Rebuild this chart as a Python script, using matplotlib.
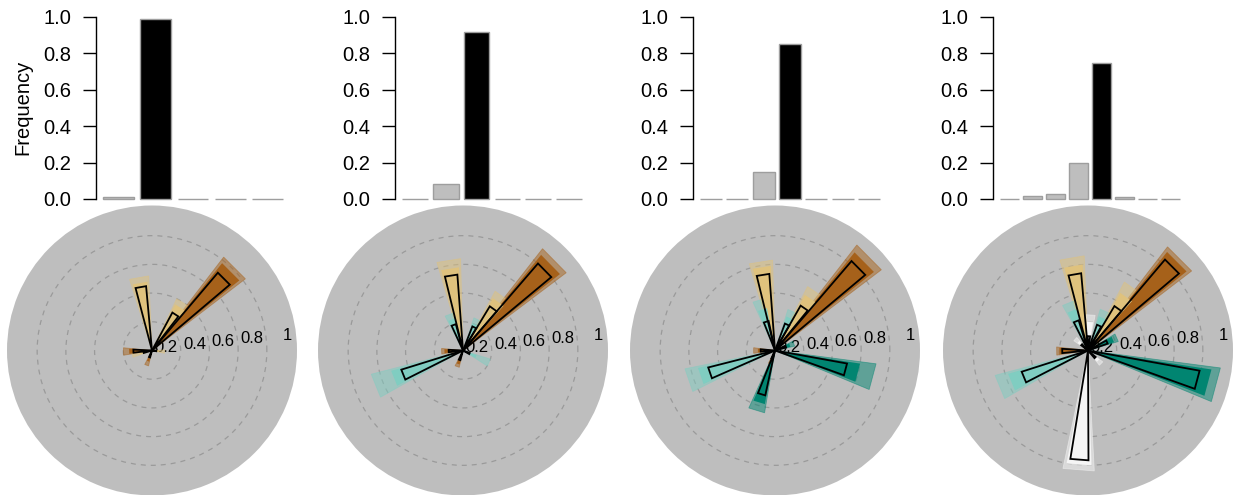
import numpy as np
import matplotlib.pyplot as plt

plt.rcParams['font.family'] = ['Liberation Sans', 'DejaVu Sans']

# frequencies shown in the top bar plots (one list per column)
freq_1 = [0.01, 0.99, 0.0, 0.0, 0.0]
freq_2 = [0.0, 0.08, 0.92, 0.0, 0.0, 0.0]
freq_3 = [0.0, 0.0, 0.15, 0.85, 0.0, 0.0, 0.0]
freq_4 = [0.0, 0.015, 0.03, 0.20, 0.75, 0.01, 0.0, 0.0]

# rose wedges: colour group, direction (deg), estimate, bulk of replicates, max of replicates
p1_col = ['tan', 'brown', 'tan', 'brown', 'tan', 'brown', 'tan']
p1_ang = [100, 45, 57, 182, 192, 250, 355]
p1_est = [0.45, 0.71, 0.30, 0.13, 0.06, 0.05, 0.03]
p1_mid = [0.48, 0.78, 0.36, 0.16, 0.09, 0.08, 0.05]
p1_max = [0.52, 0.82, 0.40, 0.20, 0.14, 0.11, 0.09]

p2_col = ['tan', 'brown', 'tan', 'lteal', 'lteal', 'lteal', 'brown', 'brown', 'lteal']
p2_ang = [99, 44.5, 54, 110, 64, 202, 182, 250, 335]
p2_est = [0.53, 0.80, 0.36, 0.19, 0.18, 0.45, 0.10, 0.07, 0.05]
p2_mid = [0.58, 0.86, 0.42, 0.23, 0.20, 0.52, 0.13, 0.10, 0.10]
p2_max = [0.64, 0.90, 0.47, 0.27, 0.24, 0.66, 0.15, 0.12, 0.20]

p3_col = ['tan', 'brown', 'tan', 'lteal', 'lteal', 'brown', 'lteal', 'dteal', 'dteal', 'brown', 'dteal']
p3_ang = [99, 44.7, 55.5, 107, 65, 180, 199, 345, 253, 250, 20]
p3_est = [0.535, 0.82, 0.36, 0.21, 0.20, 0.10, 0.48, 0.51, 0.32, 0.06, 0.08]
p3_mid = [0.59, 0.88, 0.44, 0.30, 0.25, 0.12, 0.55, 0.60, 0.38, 0.08, 0.11]
p3_max = [0.63, 0.93, 0.50, 0.37, 0.30, 0.15, 0.64, 0.71, 0.44, 0.10, 0.14]

p4_col = ['tan', 'brown', 'tan', 'lteal', 'white', 'lteal', 'dteal', 'brown', 'lteal', 'dteal', 'white', 'white', 'white']
p4_ang = [99.8, 45, 54.5, 112, 86, 66, 24, 181, 202.5, 345, 265.5, 315, 138]
p4_est = [0.54, 0.83, 0.36, 0.22, 0.10, 0.19, 0.145, 0.18, 0.485, 0.79, 0.765, 0.07, 0.06]
p4_mid = [0.60, 0.88, 0.46, 0.30, 0.20, 0.25, 0.19, 0.20, 0.58, 0.87, 0.80, 0.10, 0.09]
p4_max = [0.66, 0.91, 0.54, 0.36, 0.25, 0.30, 0.22, 0.22, 0.67, 0.93, 0.84, 0.13, 0.12]

r_ticks = [0.2, 0.4, 0.6, 0.8, 1.0]
r_labels = ['0.2', '0.4', '0.6', '0.8', '1']

palette = {'brown': '#A6611A', 'tan': '#DFC27D', 'white': '#F5F5F5',
           'lteal': '#80CDC1', 'dteal': '#018571'}

freqs = [freq_1, freq_2, freq_3, freq_4]
panels = [(p1_col, p1_ang, p1_est, p1_mid, p1_max),
          (p2_col, p2_ang, p2_est, p2_mid, p2_max),
          (p3_col, p3_ang, p3_est, p3_mid, p3_max),
          (p4_col, p4_ang, p4_est, p4_mid, p4_max)]

W, H = 1233, 495
fig = plt.figure(figsize=(W / 100, H / 100), dpi=100)

bar_left = [96, 395, 693, 993]
rose_cx = [152, 463, 775, 1088]
rose_cy = 350.5
rose_rad = 145


def wedge(ax, ang, r, width, **kw):
    t = np.deg2rad([ang - width / 2, ang + width / 2])
    ax.fill([0, t[0], t[1]], [0, r, r], **kw)


for i in range(4):
    # bar plot
    f = freqs[i]
    n = len(f)
    ax = fig.add_axes([bar_left[i] / W, (H - 199) / H, 194 / W, 182 / H])
    x = 0.7 + 1.2 * np.arange(n)
    best = int(np.argmax(f))
    cols = ['black' if k == best else '#BEBEBE' for k in range(n)]
    ax.bar(x, f, width=1, color=cols, edgecolor='#9E9E9E', linewidth=1, clip_on=False)
    rng = 1.2 * n - 0.2
    ax.set_xlim(0.2 - 0.04 * rng, 1.2 * n + 0.04 * rng)
    ax.set_ylim(0, 1)
    for s in ['top', 'right', 'bottom']:
        ax.spines[s].set_visible(False)
    ax.spines['left'].set_bounds(0, 1)
    ax.spines['left'].set_linewidth(1)
    ax.set_xticks([])
    ax.set_yticks(np.arange(0, 1.01, 0.2))
    ax.set_yticklabels(['%.1f' % v for v in np.arange(0, 1.01, 0.2)])
    ax.tick_params(axis='y', length=9.4, width=1, pad=8.5, labelsize=14.5)
    ax.patch.set_alpha(0)
    if i == 0:
        fig.text(22.5 / W, 1 - 107.7 / H, 'Frequency', rotation=90,
                 ha='center', va='center', fontsize=14.5)

    # rose plot
    rax = fig.add_axes([(rose_cx[i] - rose_rad) / W, (H - rose_cy - rose_rad) / H,
                        2 * rose_rad / W, 2 * rose_rad / H], projection='polar')
    rax.set_facecolor('#BEBEBE')
    rax.spines['polar'].set_visible(False)
    rax.set_ylim(0, 1.01)
    rax.set_xticks([])
    rax.set_yticks(r_ticks[:-1])
    rax.set_yticklabels([])
    rax.tick_params(axis='y', length=0)
    rax.yaxis.grid(True, color='#9A9A9A', linestyle=(0, (4, 4)), linewidth=0.9)
    for v, lab in zip(r_ticks, r_labels):
        rax.text(np.deg2rad(6.3), v - 0.02, lab, ha='right', va='center',
                 fontsize=12, zorder=1.5)

    col, ang, est, mid, mx = panels[i]
    for c, a, hi in zip(col, ang, mx):
        wedge(rax, a, hi, 15, facecolor=palette[c], alpha=0.5,
              edgecolor=palette[c], linewidth=0.6, zorder=2)
    for c, a, m in zip(col, ang, mid):
        wedge(rax, a, m, 12.5, facecolor=palette[c], edgecolor='none', zorder=3)
    for a, r in zip(ang, est):
        wedge(rax, a, r, 9.5, facecolor='none', edgecolor='black', linewidth=1.3, zorder=4)

fig.savefig('out.png', dpi=100)
